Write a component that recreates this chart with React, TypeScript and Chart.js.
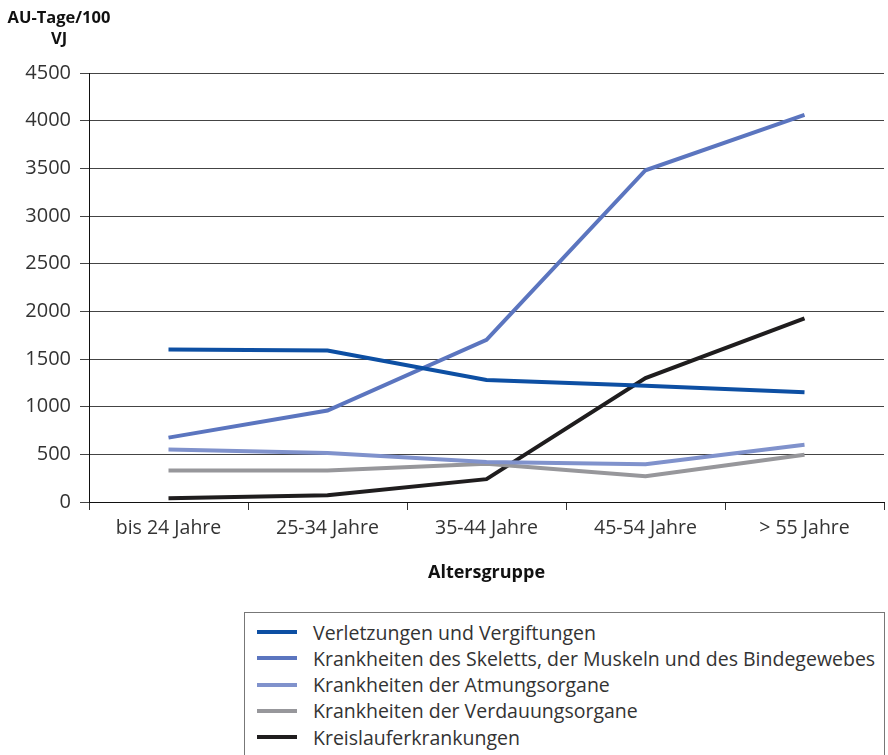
import React, { useEffect, useRef } from "react";
import { Chart, registerables } from "chart.js";

Chart.register(...registerables);

const categories = ["bis 24 Jahre", "25-34 Jahre", "35-44 Jahre", "45-54 Jahre", "> 55 Jahre"];
const verletzungen = [1600, 1590, 1280, 1220, 1150];
const skelett = [675, 960, 1700, 3480, 4060];
const atmung = [550, 515, 420, 395, 600];
const verdauung = [330, 330, 400, 270, 495];
const kreislauf = [40, 70, 240, 1300, 1925];

const seriesNames = [
  "Verletzungen und Vergiftungen",
  "Krankheiten des Skeletts, der Muskeln und des Bindegewebes",
  "Krankheiten der Atmungsorgane",
  "Krankheiten der Verdauungsorgane",
  "Kreislauferkrankungen",
];
const seriesColors = ["#0d4fa3", "#5b75bf", "#8092cc", "#97979b", "#1f1d1e"];
const seriesData = [verletzungen, skelett, atmung, verdauung, kreislauf];

const FONT = "'Open Sans', 'Noto Sans', sans-serif";

export default function App() {
  const ref = useRef<HTMLCanvasElement | null>(null);
  useEffect(() => {
    if (!ref.current) return;
    const chart = new Chart(ref.current, {
      type: "line",
      data: {
        labels: categories,
        datasets: seriesNames.map((name, i) => ({
          label: name,
          data: seriesData[i],
          borderColor: seriesColors[i],
          backgroundColor: seriesColors[i],
          borderWidth: 4,
          pointRadius: 0,
          tension: 0,
          fill: false,
        })),
      },
      options: {
        animation: false,
        responsive: false,
        layout: { padding: { top: 73, right: 4, left: 0, bottom: 0 } },
        plugins: { legend: { display: false }, tooltip: { enabled: false } },
        scales: {
          x: {
            offset: true,
            grid: {
              offset: true,
              drawOnChartArea: false,
              drawTicks: true,
              tickLength: 8,
              color: "#333",
            },
            border: { color: "#111", width: 1 },
            ticks: { color: "#333", font: { family: FONT, size: 19.5 }, padding: 7 },
            title: {
              display: true,
              text: "Altersgruppe",
              color: "#111",
              font: { family: FONT, size: 18, weight: "bold" },
              padding: { top: 10, bottom: 16 },
            },
            afterFit: (s: any) => {
              s.height = 98;
            },
          },
          y: {
            min: 0,
            max: 4500,
            ticks: {
              stepSize: 500,
              color: "#333",
              font: { family: FONT, size: 20 },
              padding: 9,
              callback: (v: any) => String(v),
            },
            grid: { color: "#444", lineWidth: 1, tickLength: 9, drawTicks: true },
            border: { color: "#111", width: 1 },
            afterFit: (s: any) => {
              s.width = 89;
            },
          },
        },
      },
    });
    return () => chart.destroy();
  }, []);

  return (
    <div style={{ position: "absolute", left: 0, top: 0, width: 888, height: 755, background: "#fff", overflow: "hidden" }}>
      <canvas ref={ref} width={888} height={600} style={{ position: "absolute", left: 0, top: 0 }} />
      <div
        style={{
          position: "absolute",
          left: 0,
          top: 6,
          width: 118,
          textAlign: "center",
          fontFamily: FONT,
          fontWeight: "bold",
          fontSize: 16.5,
          lineHeight: "21px",
          color: "#111",
        }}
      >
        AU-Tage/100
        <br />
        VJ
      </div>
      <div
        style={{
          position: "absolute",
          left: 244,
          top: 612,
          width: 641,
          height: 160,
          border: "1px solid #777",
          boxSizing: "border-box",
        }}
      >
        {seriesNames.map((name, i) => (
          <div
            key={name}
            style={{
              position: "absolute",
              left: 0,
              top: 6 + i * 26.3,
              height: 26,
              display: "flex",
              alignItems: "center",
              whiteSpace: "nowrap",
            }}
          >
            <div style={{ width: 40, height: 4, background: seriesColors[i], marginLeft: 12, marginRight: 16 }} />
            <span style={{ fontFamily: FONT, fontSize: 19.5, color: "#333" }}>{name}</span>
          </div>
        ))}
      </div>
    </div>
  );
}
